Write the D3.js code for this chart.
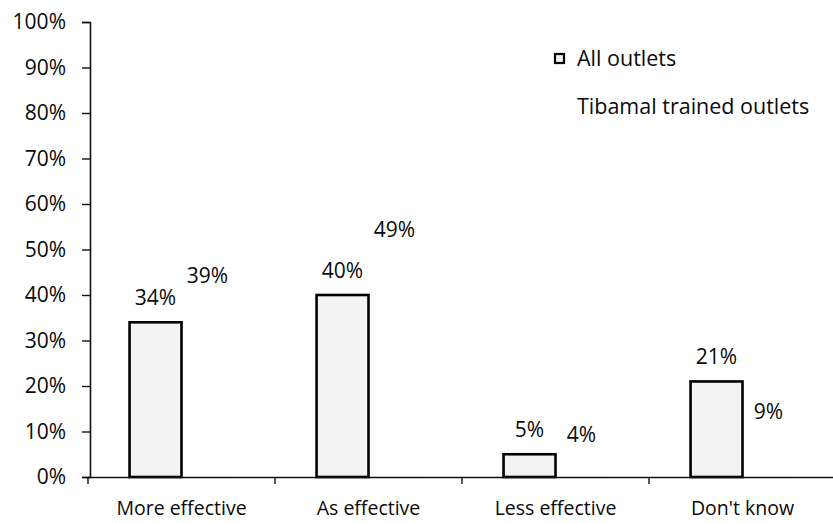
<!DOCTYPE html>
<html>
<head>
<meta charset="utf-8">
<script src="https://cdn.jsdelivr.net/npm/d3@7"></script>
<style>
  html, body { margin: 0; padding: 0; background: #fff; }
  svg { display: block; }
  text { font-family: "Open Sans", "Noto Sans", sans-serif; fill: #0a0a0a; }
</style>
</head>
<body>
<svg id="chart" width="833" height="523"></svg>
<script>
// Perceived effectiveness, share of respondents by outlet group
const categories = ["More effective", "As effective", "Less effective", "Don't know"];
const seriesNames = ["All outlets", "Tibamal trained outlets"];
const allOutlets = [0.34, 0.40, 0.05, 0.21];
const trainedOutlets = [0.39, 0.49, 0.04, 0.09];
const yTicks = [0, 0.1, 0.2, 0.3, 0.4, 0.5, 0.6, 0.7, 0.8, 0.9, 1.0];

const seriesValues = [allOutlets, trainedOutlets];
const seriesFill = ["#f3f3f3", "#fefefe"];
const seriesStroke = ["#000", "none"];

const svg = d3.select("#chart");
const margin = { left: 90, top: 22, bottom: 46 };
const W = 833, H = 523;

const x = d3.scaleBand().domain(categories).range([88, W + 3]).padding(0);
const x1 = d3.scaleBand().domain(seriesNames).range([0, x.bandwidth()]).paddingInner(0).paddingOuter(0.8);
const y = d3.scaleLinear().domain([0, 1]).range([H - margin.bottom, margin.top]);

const fmt = d3.format(".0%");

// Y axis
const yAxis = d3.axisLeft(y).tickValues(yTicks).tickFormat(fmt).tickSize(8).tickPadding(16);
const gy = svg.append("g").attr("transform", `translate(${margin.left},0)`).call(yAxis);
gy.select(".domain").attr("stroke", "#111").attr("stroke-width", 1.6);
gy.selectAll(".tick line").attr("stroke", "#111").attr("stroke-width", 1.4);
gy.selectAll(".tick text").style("font-size", "21px").attr("fill", "#0a0a0a");

// Bars: trained outlets drawn first so the outlined bars sit on top
const groups = svg.append("g").selectAll("g")
  .data(categories)
  .join("g")
  .attr("transform", d => `translate(${x(d)},0)`);

[1, 0].forEach(si => {
  const s = seriesNames[si];
  groups.append("rect")
    .attr("x", x1(s))
    .attr("width", x1.bandwidth())
    .attr("y", (d, i) => y(seriesValues[si][i]))
    .attr("height", (d, i) => y(0) - y(seriesValues[si][i]))
    .attr("fill", seriesFill[si])
    .attr("stroke", seriesStroke[si])
    .attr("stroke-width", 2.6);
});

seriesNames.forEach((s, si) => {
  groups.append("text")
    .attr("x", x1(s) + x1.bandwidth() / 2)
    .attr("y", (d, i) => y(seriesValues[si][i]) - 17)
    .attr("text-anchor", "middle")
    .style("font-size", "21px")
    .text((d, i) => fmt(seriesValues[si][i]));
});

// X axis
const xAxis = d3.axisBottom(x).tickSize(0).tickPadding(24);
const gx = svg.append("g").attr("transform", `translate(0,${y(0)})`).call(xAxis);
gx.select(".domain").attr("stroke", "#111").attr("stroke-width", 1.6);
gx.selectAll(".tick text").style("font-size", "19.5px").attr("fill", "#0a0a0a");

// Category boundary ticks
gx.selectAll(".sep")
  .data(categories)
  .join("line")
  .attr("class", "sep")
  .attr("x1", d => x(d)).attr("x2", d => x(d))
  .attr("y1", 0).attr("y2", 7)
  .attr("stroke", "#111").attr("stroke-width", 1.4);

// Legend
const legend = svg.append("g").attr("transform", "translate(555,58)");
seriesNames.forEach((s, i) => {
  const row = legend.append("g").attr("transform", `translate(0,${i * 48})`);
  row.append("rect")
    .attr("x", 0).attr("y", -4).attr("width", 9).attr("height", 9)
    .attr("fill", seriesFill[i])
    .attr("stroke", seriesStroke[i]).attr("stroke-width", 2.2);
  row.append("text")
    .attr("x", 22).attr("y", 0).attr("dy", "0.35em")
    .style("font-size", "21.5px")
    .text(s);
});
</script>
</body>
</html>
